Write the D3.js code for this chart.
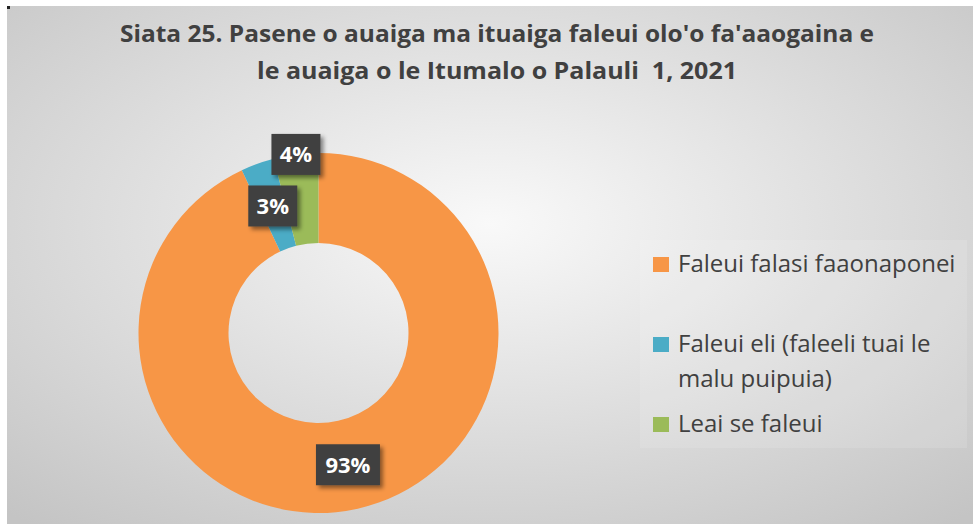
<!DOCTYPE html>
<meta charset="utf-8">
<style>
  body { margin: 0; background: #fff; }
  #chart svg { display: block; }
  text { font-family: "Open Sans", "Noto Sans", sans-serif; white-space: pre; }
</style>
<body>
<div id="chart"></div>
<script src="https://d3js.org/d3.v7.min.js"></script>
<script>
  // data
  const categories = ["Faleui falasi faaonaponei", "Faleui eli (faleeli tuai le malu puipuia)", "Leai se faleui"];
  const legendLines = [["Faleui falasi faaonaponei"], ["Faleui eli (faleeli tuai le", "malu puipuia)"], ["Leai se faleui"]];
  const values = [93, 3, 4];
  const colors = ["#F79646", "#4BACC6", "#9BBB59"];
  const titleLines = ["Siata 25. Pasene o auaiga ma ituaiga faleui olo'o fa'aaogaina e", "le auaiga o le Itumalo o Palauli  1, 2021"];

  const W = 973, H = 524;
  const svg = d3.select("#chart").append("svg").attr("width", W).attr("height", H);
  const defs = svg.append("defs");

  const grad = defs.append("radialGradient").attr("id", "bg")
    .attr("cx", "50%").attr("cy", "42%").attr("r", "75%");
  grad.append("stop").attr("offset", "0%").attr("stop-color", "#f9f9f9");
  grad.append("stop").attr("offset", "100%").attr("stop-color", "#c4c4c4");

  const shadow = defs.append("filter").attr("id", "shadow")
    .attr("x", "-30%").attr("y", "-30%").attr("width", "160%").attr("height", "160%");
  shadow.append("feDropShadow").attr("dx", 3).attr("dy", 3).attr("stdDeviation", 2)
    .attr("flood-color", "#000").attr("flood-opacity", 0.45);

  // chart frame
  svg.append("rect").attr("x", 7).attr("y", 6).attr("width", W - 7).attr("height", H - 6)
    .attr("fill", "url(#bg)");
  svg.append("rect").attr("x", 7).attr("y", 6).attr("width", 3).attr("height", 3).attr("fill", "#222");

  // title
  svg.append("g").selectAll("text")
    .data(titleLines)
    .join("text")
    .attr("x", 497)
    .attr("y", (d, i) => 42 + i * 37)
    .attr("text-anchor", "middle")
    .attr("font-size", 24)
    .attr("font-weight", 700)
    .attr("fill", "#404040")
    .attr("textLength", (d, i) => i === 0 ? 754 : 480)
    .attr("lengthAdjust", "spacingAndGlyphs")
    .text(d => d);

  // donut
  const cx = 318.5, cy = 333, rOuter = 180, rInner = 90;
  const pie = d3.pie().sort(null).value(d => d);
  const arcs = pie(values);
  const arc = d3.arc().innerRadius(rInner).outerRadius(rOuter);

  const g = svg.append("g").attr("transform", `translate(${cx},${cy})`);
  g.selectAll("path")
    .data(arcs)
    .join("path")
    .attr("d", arc)
    .attr("fill", (d, i) => colors[i]);

  // data labels: mid-ring, pushed to outer edge when they collide
  const fmt = d => d + "%";
  const midArc = d3.arc().innerRadius(135).outerRadius(135);
  const outArc = d3.arc().innerRadius(rOuter).outerRadius(rOuter);
  const boxes = [];
  arcs.forEach((d, i) => {
    const label = fmt(values[i]);
    const bw = label.length > 2 ? 64 : 49, bh = 41;
    let [x, y] = midArc.centroid(d);
    const hit = boxes.some(b => Math.abs(b.x - x) < (b.w + bw) / 2 && Math.abs(b.y - y) < (b.h + bh) / 2);
    if (hit) [x, y] = outArc.centroid(d);
    boxes.push({ x, y, w: bw, h: bh, label });
  });

  const lab = g.selectAll("g.lab")
    .data(boxes)
    .join("g")
    .attr("class", "lab")
    .attr("transform", d => `translate(${d.x},${d.y})`);
  lab.append("rect")
    .attr("x", d => -d.w / 2).attr("y", d => -d.h / 2)
    .attr("width", d => d.w).attr("height", d => d.h)
    .attr("fill", "#404040")
    .attr("filter", "url(#shadow)");
  lab.append("text")
    .attr("text-anchor", "middle")
    .attr("dy", "0.36em")
    .attr("font-size", 22)
    .attr("font-weight", 700)
    .attr("fill", "#fff")
    .text(d => d.label);

  // legend
  svg.append("rect").attr("x", 640).attr("y", 240).attr("width", 327).attr("height", 208)
    .attr("fill", "#fff").attr("opacity", 0.12);

  const ly = d3.scalePoint().domain(categories).range([272, 432]);
  const leg = svg.append("g").selectAll("g")
    .data(categories)
    .join("g")
    .attr("transform", d => `translate(653,${ly(d)})`);
  leg.append("rect")
    .attr("x", 0).attr("y", -15).attr("width", 16).attr("height", 15)
    .attr("fill", (d, i) => colors[i]);
  leg.append("text")
    .attr("x", 25)
    .attr("font-size", 24)
    .attr("fill", "#404040")
    .selectAll("tspan")
    .data((d, i) => legendLines[i])
    .join("tspan")
    .attr("x", 25)
    .attr("dy", (d, j) => j === 0 ? 0 : 35)
    .text(d => d);
</script>
</body>
</html>
